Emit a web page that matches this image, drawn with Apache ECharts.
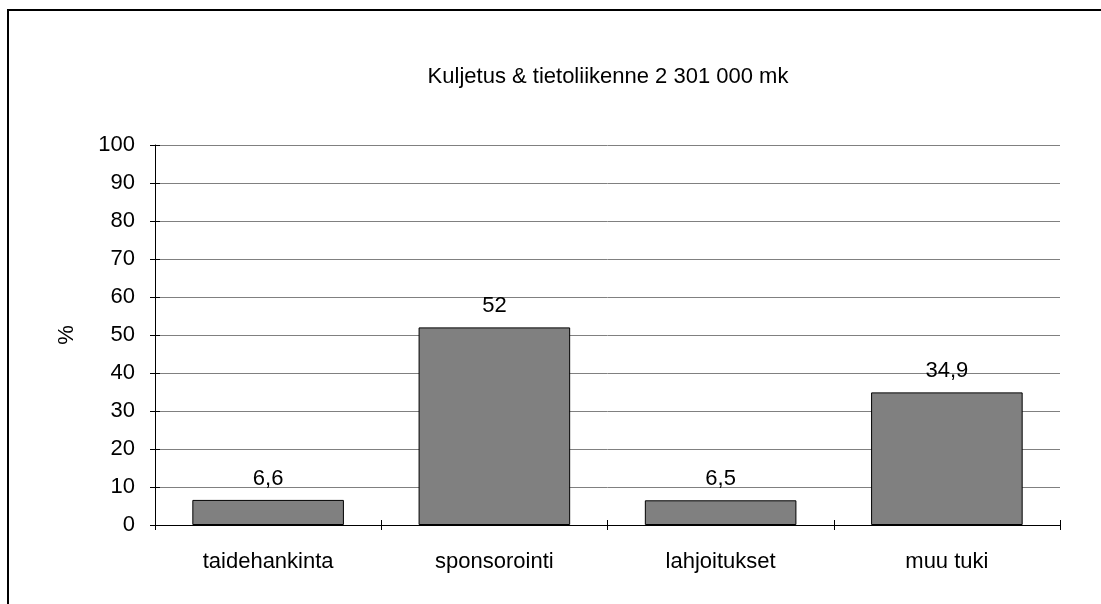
<!DOCTYPE html>
<html>
<head>
<meta charset="utf-8">
<script src="https://cdn.jsdelivr.net/npm/echarts@6/dist/echarts.min.js"></script>
<style>
  html, body { margin: 0; padding: 0; background: #fff; }
  #chart { width: 1101px; height: 604px; }
</style>
</head>
<body>
<div id="chart"></div>
<script>
// data
var categories = ['taidehankinta', 'sponsorointi', 'lahjoitukset', 'muu tuki'];
var shares = [6.6, 52, 6.5, 34.9];
var titleText = 'Kuljetus & tietoliikenne 2 301 000 mk';
var yName = '%';

var FONT = '"Liberation Sans", Arial, sans-serif';

var chart = echarts.init(document.getElementById('chart'));

var option = {
    animation: false,
    backgroundColor: '#fff',
    textStyle: { fontFamily: FONT },
    title: {
        text: titleText,
        left: 603,
        top: 61,
        textAlign: 'center',
        textStyle: { fontFamily: FONT, fontSize: 22, fontWeight: 'normal', color: '#000' }
    },
    grid: { left: 155, right: 41, top: 145, bottom: 79 },
    // outer frame, only its left and top edges are in the picture
    graphic: [{
        type: 'rect',
        shape: { x: 8, y: 10, width: 1300, height: 1000 },
        style: { fill: 'none', stroke: '#000', lineWidth: 2 },
        silent: true
    }],
    xAxis: [{
        type: 'category',
        data: categories,
        axisLine: { lineStyle: { color: '#000', width: 1 } },
        axisTick: { show: true, length: 5, alignWithLabel: false, lineStyle: { color: '#000' } },
        axisLabel: { color: '#000', fontSize: 22, fontFamily: FONT, margin: 26 },
        splitLine: { show: false }
    }, {
        // second copy so the ticks cross the axis line
        type: 'category',
        data: categories,
        position: 'bottom',
        axisLine: { show: false },
        axisTick: { show: true, inside: true, length: 5, lineStyle: { color: '#000' } },
        axisLabel: { show: false }
    }],
    yAxis: [{
        type: 'value',
        min: 0,
        max: 100,
        interval: 10,
        name: yName,
        nameLocation: 'middle',
        nameGap: 77,
        nameRotate: 90,
        nameTextStyle: { color: '#000', fontSize: 22, fontFamily: FONT },
        axisLine: { show: true, lineStyle: { color: '#000', width: 1 } },
        axisTick: { show: true, length: 5, lineStyle: { color: '#000' } },
        axisLabel: { color: '#000', fontSize: 22, fontFamily: FONT, margin: 20 },
        splitLine: { show: true, lineStyle: { color: '#808080', width: 1 } }
    }, {
        type: 'value',
        min: 0,
        max: 100,
        interval: 10,
        position: 'left',
        axisLine: { show: false },
        axisTick: { show: true, inside: true, length: 5, lineStyle: { color: '#000' } },
        axisLabel: { show: false },
        splitLine: { show: false }
    }],
    series: [{
        type: 'bar',
        data: shares,
        barWidth: '67%',
        itemStyle: { color: '#808080', borderColor: '#000', borderWidth: 1 },
        label: {
            show: true,
            position: 'top',
            distance: 10,
            color: '#000',
            fontSize: 22,
            fontFamily: FONT,
            formatter: function (p) { return String(p.value).replace('.', ','); }
        }
    }]
};

chart.setOption(option);
</script>
</body>
</html>
